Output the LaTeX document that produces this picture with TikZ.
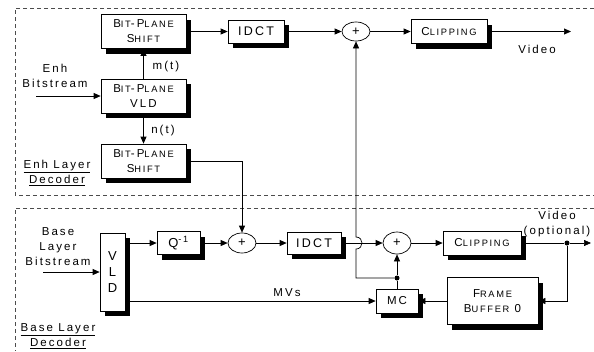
\documentclass[tikz,border=0pt]{standalone}
\usepackage{fontspec}
\setmainfont{Liberation Sans}[LetterSpace=18]
\usetikzlibrary{arrows.meta,shadows,shapes.geometric}
\newcommand\fsc[2]{#1{\fontsize{9.3}{10}\selectfont #2}}
\begin{document}
\begin{tikzpicture}[x=1pt,y=-1pt,
  font=\fontsize{11.5}{15}\selectfont,
  blk/.style={draw, fill=white, line width=0.7pt, rectangle, inner sep=0pt, align=center,
    drop shadow={shadow xshift=5pt, shadow yshift=-5pt, fill=black, opacity=1}},
  sum/.style={draw, ellipse, fill=white, inner sep=0pt, line width=0.7pt, font=\fontsize{13}{13}\selectfont},
  arr/.style={line width=0.7pt, -{Triangle[length=7pt,width=6pt]}},
  ln/.style={line width=0.7pt},
  region/.style={draw=black!70, dash pattern=on 4pt off 3pt, line width=0.8pt},
  dot/.style={circle, fill=black, inner sep=0pt, minimum size=5pt},
  lbl/.style={inner sep=0pt, align=center}]
\useasboundingbox (0,0) rectangle (594,351);

% regions
\draw[region] (594,8) -- (15,8) -- (15,195) -- (594,195);
\draw[region] (594,208) -- (15,208) -- (15,351);

% enhancement layer
\node[blk, minimum width=85pt, minimum height=34pt] (bps1) at (143.5,31.5) {\fsc{B}{IT}-\fsc{P}{LANE}\\\fsc{S}{HIFT}};
\node[blk, minimum width=56pt, minimum height=23pt, font=\fontsize{12.5}{15}\selectfont] (idct1) at (256,31.5) {IDCT};
\node[sum, minimum width=28pt, minimum height=19pt] (plus1) at (356,31.5) {+};
\node[blk, minimum width=76pt, minimum height=24pt] (clip1) at (449,31.5) {\fsc{C}{LIPPING}};
\coordinate (out1) at (571,31.5);
\node[blk, minimum width=85pt, minimum height=34pt] (vld1) at (143.5,96) {\fsc{B}{IT}-\fsc{P}{LANE}\\VLD};
\node[blk, minimum width=85pt, minimum height=34pt] (bps2) at (143.5,161) {\fsc{B}{IT}-\fsc{P}{LANE}\\\fsc{S}{HIFT}};
\coordinate (ein) at (36,96);

\node[lbl] (enhlbl) at (55,76) {Enh\\Bitstream};
\node[lbl] (mt) at (166,67) {m(t)};
\node[lbl] (nt) at (163,131) {n(t)};
\node[lbl] (vid1) at (537,49) {Video};
\node[lbl] (enhdec) at (57,173) {\underline{Enh Layer}\\\underline{Decoder}};

\draw[arr] (bps1.east) -- (idct1.west);
\draw[arr] (idct1.east) -- (plus1.west);
\draw[arr] (plus1.east) -- (clip1.west);
\draw[arr] (clip1.east) -- (out1);
\draw[arr] (ein) -- (vld1.west);
\draw[arr] (vld1.north) -- (bps1.south);
\draw[arr] (vld1.south) -- (bps2.north);

% base layer
\node[blk, minimum width=25pt, minimum height=78pt, font=\fontsize{13}{16}\selectfont] (vld2) at (112.5,272) {V\\L\\D};
\node[blk, minimum width=43pt, minimum height=23pt, font=\fontsize{13}{15}\selectfont] (q) at (178.5,243) {Q\textsuperscript{-1}};
\node[sum, minimum width=28pt, minimum height=20pt] (plus2) at (242,243) {+};
\node[blk, minimum width=54pt, minimum height=22pt, font=\fontsize{12.5}{15}\selectfont] (idct2) at (314,243) {IDCT};
\node[sum, minimum width=28pt, minimum height=22pt] (plus3) at (397,243) {+};
\node[blk, minimum width=78pt, minimum height=24pt] (clip2) at (482,243) {\fsc{C}{LIPPING}};
\node[dot] (d2) at (567,243) {};
\coordinate (out2) at (591,243);
\node[blk, minimum width=91pt, minimum height=47pt] (fb) at (492.5,301) {\fsc{F}{RAME}\\\fsc{B}{UFFER} 0};
\node[blk, minimum width=42pt, minimum height=24pt] (mc) at (397,301) {MC};
\node[dot] (j) at (397,278) {};
\coordinate (bin) at (43,272);

\node[lbl] (baselbl) at (58,247) {Base\\Layer\\Bitstream};
\node[lbl] (mvs) at (287,293) {MVs};
\node[lbl] (vid2) at (557,224) {Video\\(optional)};
\node[lbl] (basedec) at (58,336) {\underline{Base Layer}\\\underline{Decoder}};

\draw[arr] (bin) -- (vld2.west);
\draw[arr] (vld2.east |- q.west) -- (q.west);
\draw[arr] (q.east) -- (plus2.west);
\draw[arr] (plus2.east) -- (idct2.west);
\draw[arr] (idct2.east) -- (plus3.west);
\draw[arr] (plus3.east) -- (clip2.west);
\draw[ln] (clip2.east) -- (d2);
\draw[arr] (d2) -- (out2);
\draw[arr] (d2) |- (fb.east);
\draw[arr] (fb.west) -- (mc.east);
\draw[arr] (vld2.east |- mc.west) -- (mc.west);
\draw[ln] (mc.north) -- (j);
\draw[arr] (j) -- (plus3.south);
\draw[arr] (bps2.east) -| (plus2.north);
\draw[arr] (j) -| (356,249) .. controls (364,249) and (364,237) .. (356,237) -- (plus1.south);
\end{tikzpicture}
\end{document}
